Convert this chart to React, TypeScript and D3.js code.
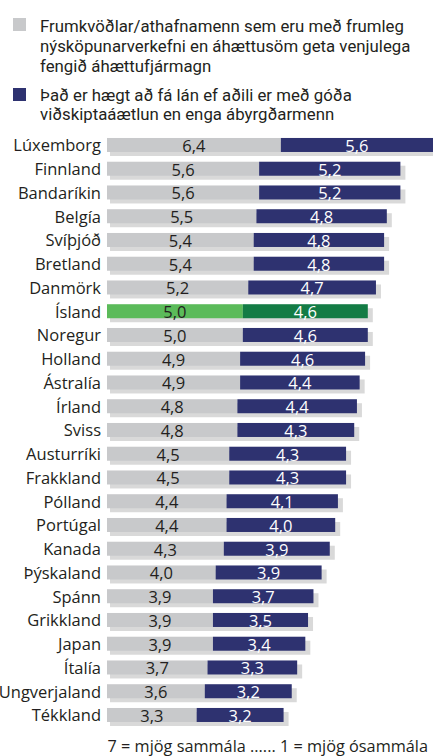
import React from "react";
import * as d3 from "d3";

const countries = ["Lúxemborg","Finnland","Bandaríkin","Belgía","Svíþjóð","Bretland","Danmörk","Ísland","Noregur","Holland","Ástralía","Írland","Sviss","Austurríki","Frakkland","Pólland","Portúgal","Kanada","Þýskaland","Spánn","Grikkland","Japan","Ítalía","Ungverjaland","Tékkland"];
const ventureCapital = [6.4,5.6,5.6,5.5,5.4,5.4,5.2,5.0,5.0,4.9,4.9,4.8,4.8,4.5,4.5,4.4,4.4,4.3,4.0,3.9,3.9,3.9,3.7,3.6,3.3];
const loans = [5.6,5.2,5.2,4.8,4.8,4.8,4.7,4.6,4.6,4.6,4.4,4.4,4.3,4.3,4.3,4.1,4.0,3.9,3.9,3.7,3.5,3.4,3.3,3.2,3.2];
const legend1 = ["Frumkvöðlar/athafnamenn sem eru með frumleg", "nýsköpunarverkefni en áhættusöm geta venjulega", "fengið áhættufjármagn"];
const legend2 = ["Það er hægt að fá lán ef aðili er með góða", "viðskiptaáætlun en enga ábyrgðarmenn"];
const footer = "7 = mjög sammála ...... 1 = mjög ósammála";
const highlight = "Ísland";

const W = 433, H = 756;
const FONT = "'Open Sans', sans-serif";
const LEGEND_FONT = "Roboto, 'Open Sans', sans-serif";
const fmt = (v: number) => v.toFixed(1).replace(".", ",");

export default function App() {
  const x = d3.scaleLinear().domain([0, 12]).range([107, 433]);
  const y = d3.scaleBand().domain(countries).range([133.1, 133.1 + 23.75 * countries.length]).paddingInner(0.41).paddingOuter(0.205);
  const bh = y.bandwidth();
  return (
    <svg width={W} height={H} style={{ position: "absolute", left: 0, top: 0, background: "#fff" }} fontFamily={FONT}>
      <rect x={13} y={18} width={13} height={13} fill="#c8c9cb" />
      <text x={40} y={32} fontSize={16.8} fill="#231f20" fontFamily={LEGEND_FONT}>
        {legend1.map((t, i) => (
          <tspan key={t} x={40} dy={i === 0 ? 0 : 19.8}>{t}</tspan>
        ))}
      </text>
      <rect x={13} y={88} width={13} height={13} fill="#2e3270" />
      <text x={40} y={100.5} fontSize={16.8} fill="#231f20" fontFamily={LEGEND_FONT}>
        {legend2.map((t, i) => (
          <tspan key={t} x={40} dy={i === 0 ? 0 : 19.8}>{t}</tspan>
        ))}
      </text>
      {countries.map((c, i) => {
        const y0 = y(c)!;
        const g = ventureCapital[i], l = loans[i];
        const isH = c === highlight;
        const c1 = isH ? "#5bbb5a" : "#c8c9cb";
        const c2 = isH ? "#137c45" : "#2e3270";
        const xe = x(g + l);
        return (
          <g key={c}>
            <rect x={x(0) + 3} y={y0 + 4} width={xe - x(0) + 2} height={bh} fill="#d9d9d9" />
            <rect x={x(0)} y={y0} width={x(g) - x(0)} height={bh} fill={c1} />
            <rect x={x(g)} y={y0} width={xe - x(g)} height={bh} fill={c2} />
            <text x={101} y={y0 + bh / 2 + 6.5} textAnchor="end" fontSize={16.5} fill="#231f20">{c}</text>
            <text x={(x(0) + x(g)) / 2} y={y0 + bh / 2 + 7} textAnchor="middle" fontSize={16.5} fill="#231f20">{fmt(g)}</text>
            <text x={(x(g) + xe) / 2} y={y0 + bh / 2 + 7} textAnchor="middle" fontSize={16.5} fill="#ffffff">{fmt(l)}</text>
          </g>
        );
      })}
      <text x={428} y={752} textAnchor="end" fontSize={16.3} fill="#231f20">{footer}</text>
    </svg>
  );
}
